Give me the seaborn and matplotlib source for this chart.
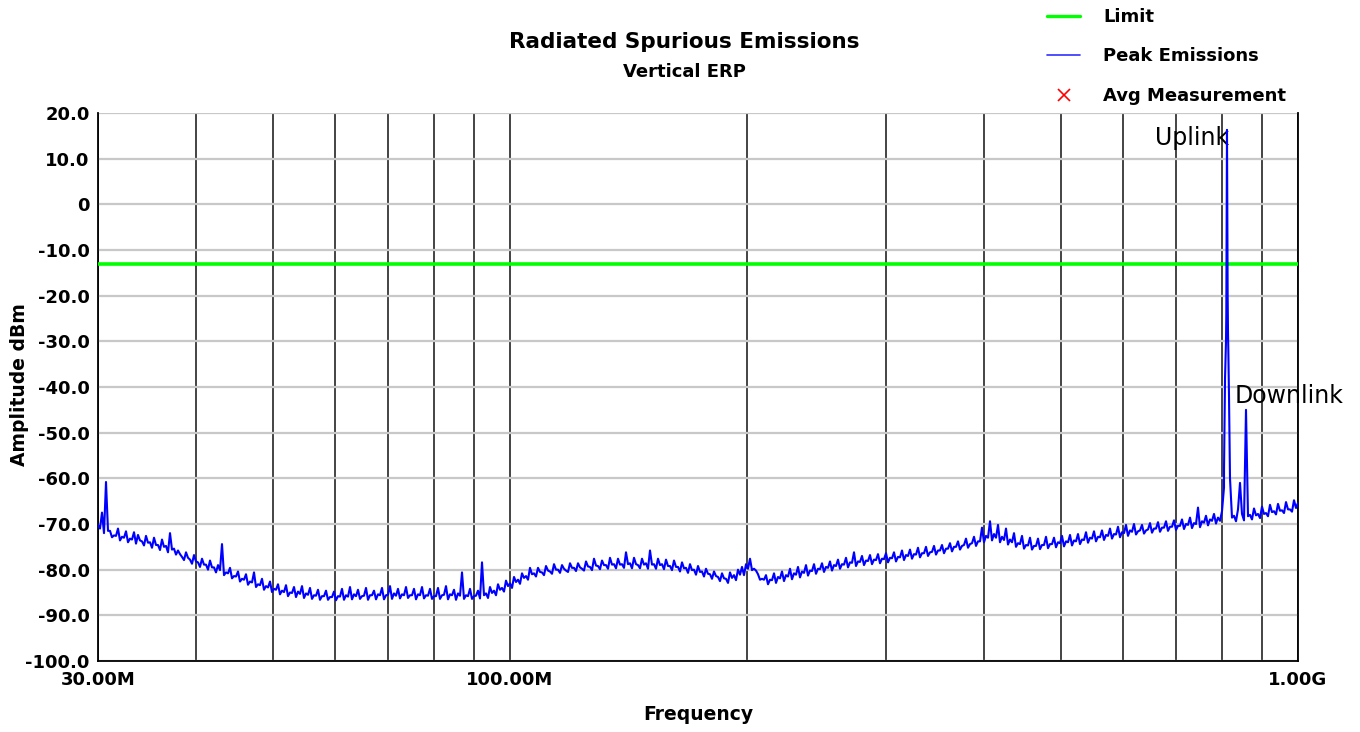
import numpy as np
import pandas as pd
import matplotlib
matplotlib.use("Agg")
import matplotlib.pyplot as plt
from matplotlib.lines import Line2D
from matplotlib.ticker import FixedLocator, NullFormatter, MultipleLocator
import seaborn as sns

# ---------------- data ----------------
title = "Radiated Spurious Emissions"
subtitle = "Vertical ERP"
limit_dbm = -13.0
freq_start_mhz = 30.0
freq_stop_mhz = 1000.0

# peak-hold sweep, display-bin maxima
# (301 bins, log-spaced 30 MHz .. 1 GHz); includes the downlink line at bin 287
bin_max_dbm = [
    -70.2, -67.5, -60.8, -71.5, -72.5, -71.0, -72.8, -71.6, -73.2, -71.8,
    -72.4, -73.8, -72.6, -74.0, -73.0, -74.6, -73.4, -74.8, -72.0, -75.4,
    -75.8, -77.2, -76.2, -77.8, -76.8, -78.4, -77.6, -78.9, -78.0, -79.5,
    -79.0, -74.4, -80.6, -79.6, -81.4, -80.4, -82.0, -81.0, -82.6, -80.6,
    -83.2, -82.0, -83.6, -82.6, -84.2, -83.2, -84.6, -83.4, -85.0, -83.8,
    -84.8, -83.6, -85.2, -84.0, -85.6, -84.4, -85.8, -84.6, -86.0, -84.8,
    -85.8, -84.2, -85.6, -83.8, -85.4, -84.4, -85.8, -84.0, -85.6, -84.6,
    -85.4, -84.0, -85.6, -83.6, -85.2, -84.2, -85.4, -83.8, -85.6, -84.2,
    -85.4, -83.8, -85.6, -84.2, -85.8, -84.0, -85.6, -83.6, -85.4, -84.4,
    -85.2, -80.6, -85.6, -84.2, -85.8, -84.6, -78.4, -85.2, -83.8, -84.6,
    -83.2, -84.0, -82.4, -83.0, -81.6, -82.2, -80.8, -81.4, -79.6, -80.8,
    -79.6, -80.6, -79.2, -80.4, -78.8, -80.0, -79.0, -80.2, -78.6, -79.6,
    -78.6, -79.8, -78.2, -79.4, -77.6, -79.2, -78.0, -79.0, -77.4, -78.8,
    -77.6, -78.8, -76.2, -78.6, -77.4, -79.0, -77.6, -78.6, -75.8, -78.8,
    -77.6, -78.8, -77.8, -79.2, -78.0, -79.4, -78.4, -79.6, -78.8, -80.0,
    -79.2, -80.4, -79.8, -81.0, -80.4, -81.6, -80.8, -82.0, -80.6, -81.2,
    -80.0, -79.4, -78.8, -77.6, -79.8, -81.0, -82.0, -81.2, -82.2, -80.8,
    -81.6, -80.4, -81.2, -79.8, -80.8, -79.4, -80.4, -79.0, -80.2, -78.8,
    -79.8, -78.6, -79.4, -78.2, -79.0, -77.8, -78.8, -77.4, -78.4, -76.2,
    -78.2, -77.0, -78.0, -76.8, -77.8, -76.6, -77.6, -76.4, -77.4, -76.2,
    -77.2, -75.8, -76.8, -75.6, -76.6, -75.2, -76.4, -75.0, -76.2, -74.8,
    -75.8, -74.6, -75.4, -74.2, -75.0, -73.8, -74.8, -73.2, -74.4, -72.8,
    -73.8, -70.8, -72.6, -69.4, -72.2, -70.2, -72.8, -71.0, -73.4, -72.0,
    -74.2, -72.6, -74.6, -73.0, -74.8, -73.2, -74.6, -72.8, -74.4, -73.0,
    -74.0, -72.6, -73.8, -72.4, -73.6, -72.2, -73.4, -71.8, -73.0, -71.6,
    -72.8, -71.4, -72.4, -71.0, -72.2, -70.6, -71.8, -70.2, -71.4, -70.0,
    -71.6, -70.2, -71.4, -69.8, -71.0, -69.6, -70.8, -69.4, -70.6, -69.2,
    -70.4, -69.0, -70.0, -68.6, -69.8, -66.4, -69.4, -68.2, -69.0, -67.8,
    -68.6, -67.2, -30.0, -60.0, -68.2, -66.8, -67.8, -45.0, -68.0, -66.6,
    -67.8, -66.2, -67.6, -65.8, -67.2, -65.6, -67.0, -65.2, -66.8, -64.8,
    -65.4,
]

# display-bin minima (300 values, between consecutive bins); includes the 844 MHz spur
bin_min_dbm = [
    -71.0, -72.0, -71.5, -72.9, -72.6, -73.6, -73.0, -74.0, -73.4, -74.3,
    -73.6, -74.7, -74.1, -75.2, -74.6, -75.7, -75.0, -76.2, -75.6, -76.7,
    -76.6, -77.9, -77.4, -78.7, -78.2, -79.4, -78.9, -80.0, -79.5, -80.6,
    -80.1, -81.2, -80.8, -81.9, -81.5, -82.6, -82.2, -83.3, -82.8, -83.8,
    -83.4, -84.4, -83.9, -84.9, -84.4, -85.4, -84.9, -85.8, -85.1, -86.0,
    -85.3, -86.2, -85.5, -86.4, -85.7, -86.6, -85.8, -86.6, -86.0, -86.7,
    -85.9, -86.6, -85.9, -86.5, -85.8, -86.4, -85.7, -86.6, -85.6, -86.5,
    -85.6, -86.5, -85.5, -86.4, -85.7, -86.3, -85.6, -86.2, -85.6, -86.5,
    -85.6, -86.3, -85.7, -86.4, -85.8, -86.4, -85.5, -86.5, -85.6, -86.6,
    -85.7, -86.4, -85.8, -86.4, -85.7, -86.3, -85.6, -86.2, -85.1, -85.6,
    -84.4, -84.8, -83.6, -84.0, -82.7, -83.1, -81.8, -82.2, -81.0, -81.5,
    -80.5, -81.2, -80.2, -80.9, -80.0, -80.7, -79.8, -80.5, -79.6, -80.3,
    -79.5, -80.2, -79.3, -80.1, -79.1, -79.9, -79.0, -79.8, -78.9, -79.7,
    -78.9, -79.6, -78.8, -79.7, -78.8, -79.7, -78.9, -79.8, -78.9, -79.8,
    -79.0, -79.9, -79.2, -80.1, -79.4, -80.4, -79.7, -80.7, -80.1, -81.1,
    -80.5, -81.5, -80.9, -82.0, -81.4, -82.5, -81.9, -82.9, -81.8, -82.3,
    -81.1, -81.2, -79.8, -80.1, -80.2, -82.2, -82.2, -83.2, -82.3, -82.9,
    -81.9, -82.5, -81.5, -82.1, -81.1, -81.7, -80.7, -81.3, -80.3, -80.9,
    -79.9, -80.5, -79.6, -80.2, -79.2, -79.8, -78.9, -79.5, -78.5, -79.2,
    -78.3, -79.0, -78.1, -78.8, -77.9, -78.6, -77.7, -78.4, -77.5, -78.2,
    -77.3, -77.9, -77.0, -77.6, -76.7, -77.3, -76.4, -77.0, -76.1, -76.7,
    -75.8, -76.4, -75.4, -76.0, -75.0, -75.6, -74.6, -75.2, -74.2, -74.8,
    -73.8, -74.0, -73.0, -73.6, -73.0, -74.0, -73.5, -74.5, -74.0, -75.0,
    -74.4, -75.4, -74.7, -75.6, -74.8, -75.5, -74.6, -75.3, -74.4, -75.1,
    -74.2, -74.9, -74.0, -74.7, -73.8, -74.4, -73.5, -74.1, -73.2, -73.8,
    -72.9, -73.5, -72.6, -73.2, -72.3, -72.9, -72.0, -72.6, -71.7, -72.3,
    -71.4, -72.1, -71.2, -71.9, -71.0, -71.7, -70.8, -71.5, -70.6, -71.3,
    -70.4, -71.1, -70.2, -70.9, -70.0, -70.7, -69.7, -70.3, -69.3, -69.9,
    -69.3, -62.0, -28.0, -68.6, -69.4, -61.0, -69.2, -68.3, -69.0, -68.1,
    -68.7, -67.8, -68.3, -67.4, -67.9, -67.1, -67.6, -66.8, -67.3, -66.5,
]

# uplink carrier (fine detail around the peak)
uplink_mhz = [805.6, 808.0, 811.0, 812.6, 814.2, 815.8, 817.4, 819.0]
uplink_dbm = [-58.0, -38.0, -24.0, 16.3, -20.0, -32.0, -42.0, -55.0]

# average measurements (none recorded)
avg_mhz = []
avg_dbm = []

x_major_ticks = [30, 100, 1000]
x_major_labels = ["30.00M", "100.00M", "1.00G"]
x_minor_ticks = [40, 50, 60, 70, 80, 90, 200, 300, 400, 500, 600, 700, 800, 900]
y_ticks = [20, 10, 0, -10, -20, -30, -40, -50, -60, -70, -80, -90, -100]
y_labels = ["20.0", "10.0", "0", "-10.0", "-20.0", "-30.0", "-40.0", "-50.0",
            "-60.0", "-70.0", "-80.0", "-90.0", "-100.0"]

# ---------------- assemble ----------------
bin_mhz = np.geomspace(freq_start_mhz, freq_stop_mhz, len(bin_max_dbm))
mid_mhz = np.sqrt(bin_mhz[:-1] * bin_mhz[1:])
trace = pd.DataFrame({
    "freq": np.concatenate([bin_mhz, mid_mhz, uplink_mhz]),
    "dbm": np.concatenate([bin_max_dbm, bin_min_dbm, uplink_dbm]),
}).sort_values("freq", kind="mergesort")
limit_df = pd.DataFrame({"freq": [freq_start_mhz, freq_stop_mhz],
                         "dbm": [limit_dbm, limit_dbm]})

# ---------------- style ----------------
sns.set_style("white")
plt.rcParams["font.family"] = ["DejaVu Sans"]
plt.rcParams["text.color"] = "black"
plt.rcParams["axes.labelcolor"] = "black"
plt.rcParams["xtick.color"] = "black"
plt.rcParams["ytick.color"] = "black"

fig = plt.figure(figsize=(13.6, 7.32), dpi=100)
ax = fig.add_axes([98 / 1360, 1 - 661 / 732, 1200 / 1360, 548 / 732])

ax.set_xscale("log")
ax.set_xlim(freq_start_mhz, freq_stop_mhz)
ax.set_ylim(-100, 20)

# grid
ax.set_axisbelow(True)
ax.yaxis.set_major_locator(FixedLocator(y_ticks))
ax.yaxis.set_minor_locator(MultipleLocator(2))
ax.set_yticklabels(y_labels)
ax.xaxis.set_major_locator(FixedLocator(x_major_ticks))
ax.xaxis.set_minor_locator(FixedLocator(x_minor_ticks))
ax.set_xticklabels(x_major_labels)
ax.xaxis.set_minor_formatter(NullFormatter())
ax.grid(True, axis="y", which="major", color="#c8c8c8", lw=1.6)
ax.grid(True, axis="x", which="both", color="#111111", lw=1.1)

# data
sns.lineplot(data=limit_df, x="freq", y="dbm", ax=ax, color="#00ff00", lw=2.6,
             estimator=None, legend=False, zorder=3)
sns.lineplot(data=trace, x="freq", y="dbm", ax=ax, color="#0000ff", lw=1.5,
             estimator=None, sort=False, legend=False, zorder=4)
if len(avg_mhz):
    sns.scatterplot(x=avg_mhz, y=avg_dbm, ax=ax, marker="x", color="red", zorder=5)

# spines & ticks
ax.spines["top"].set_visible(False)
for s in ["left", "bottom", "right"]:
    ax.spines[s].set_color("black")
    ax.spines[s].set_linewidth(1.3)
ax.tick_params(axis="y", which="major", direction="inout", length=8, width=1.3,
               color="black", labelsize=13, pad=2, labelcolor="black")
ax.tick_params(axis="y", which="minor", direction="inout", length=5, width=1.1,
               color="black")
ax.tick_params(axis="x", which="both", direction="out", length=4, width=1.1,
               color="black", labelsize=13, pad=3, labelcolor="black")
ax.tick_params(axis="x", which="minor", labelbottom=False)
for lab in ax.get_yticklabels() + ax.get_xticklabels():
    lab.set_fontweight("bold")

ax.set_xlabel("Frequency", fontsize=13.5, fontweight="bold", color="black")
ax.set_ylabel("Amplitude dBm", fontsize=13.5, fontweight="bold", color="black")
ax.xaxis.set_label_coords(0.5, -0.081)
ax.yaxis.set_label_coords(-0.0575, 0.505)

# annotations
ax.text(658, 14.5, "Uplink", fontsize=17, va="center", ha="left", color="black")
ax.text(832, -42.0, "Downlink", fontsize=17, va="center", ha="left", color="black")

# titles
fig.text(684 / 1360, 1 - 42 / 732, title, ha="center", va="center",
         fontsize=15.5, fontweight="bold", color="black")
fig.text(684 / 1360, 1 - 72 / 732, subtitle, ha="center", va="center",
         fontsize=13, fontweight="bold", color="black")

# legend
handles = [
    Line2D([], [], color="#00ff00", lw=2.4),
    Line2D([], [], color="#3030ff", lw=1.2),
    Line2D([], [], color="red", marker="x", ls="None", markersize=9, mew=1.2),
]
labels = ["Limit", "Peak Emissions", "Avg Measurement"]
leg = fig.legend(handles, labels, loc="upper left",
                 bbox_to_anchor=(1047 / 1360, 1 - 8 / 732), frameon=False,
                 borderpad=0, borderaxespad=0, handlelength=1.85,
                 handletextpad=1.25, labelspacing=1.19,
                 prop={"size": 13, "weight": "bold"})
for t in leg.get_texts():
    t.set_color("black")

fig.savefig("out.png", dpi=100)
